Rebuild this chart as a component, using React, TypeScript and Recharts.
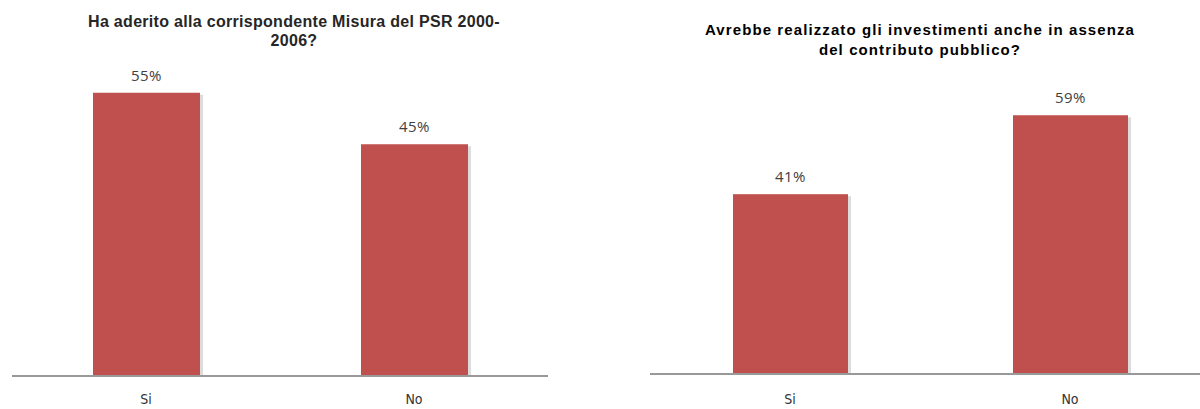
import React from 'react';
import { BarChart, Bar, XAxis, YAxis, LabelList } from 'recharts';

const categories = ['Si', 'No'];
const adesioneValues = [55, 45];
const investimentiValues = [41, 59];

const adesioneData = categories.map((name, i) => ({ name, value: adesioneValues[i] }));
const investimentiData = categories.map((name, i) => ({ name, value: investimentiValues[i] }));

const BAR_COLOR = '#C0504D';

// bar with a soft grey shadow on its right side, like the office export
const ShadowBar = (props: any) => {
    const { x, y, width, height } = props;
    if (!height || height <= 0) return null;
    return (
        <g>
            <rect x={x + 3} y={y + 2} width={width} height={height - 2} fill="#dcdcdc" />
            <rect x={x} y={y} width={width} height={height} fill={BAR_COLOR} />
        </g>
    );
};

const pctLabel = (v: any) => `${v}%`;

const tickStyle = { fill: '#333333', fontSize: 14, fontFamily: '"DejaVu Sans Condensed", "DejaVu Sans", sans-serif' };
const labelStyle = { fill: '#404040', fontSize: 15, fontFamily: '"Open Sans", sans-serif', letterSpacing: 0.4 };

const App: React.FC = () => {
    return (
        <div style={{ position: 'absolute', left: 0, top: 0, width: 1200, height: 409, overflow: 'hidden', background: '#fff' }}>
            <div
                style={{
                    position: 'absolute', left: 0, top: 12, width: 588, textAlign: 'center',
                    fontFamily: '"Liberation Sans", Arial, sans-serif', fontWeight: 'bold', fontSize: 16,
                    lineHeight: '19px', color: '#262626', letterSpacing: 0.3,
                }}
            >
                Ha aderito alla corrispondente Misura del PSR 2000-
                <br />
                2006?
            </div>
            <div
                style={{
                    position: 'absolute', left: 640, top: 20, width: 560, textAlign: 'center',
                    fontFamily: '"Liberation Sans", Arial, sans-serif', fontWeight: 'bold', fontSize: 15,
                    lineHeight: '20px', color: '#000', letterSpacing: 1.1,
                }}
            >
                Avrebbe realizzato gli investimenti anche in assenza
                <br />
                del contributo pubblico?
            </div>

            <div style={{ position: 'absolute', left: 0, top: 0 }}>
                <BarChart width={560} height={409} data={adesioneData} margin={{ top: 67, right: 12, left: 12, bottom: 0 }}>
                    <XAxis
                        dataKey="name"
                        height={33}
                        tickLine={false}
                        tickSize={0}
                        tickMargin={18}
                        axisLine={{ stroke: '#999999', strokeWidth: 2 }}
                        tick={tickStyle}
                    />
                    <YAxis hide domain={[0, 60]} />
                    <Bar dataKey="value" barSize={107} shape={ShadowBar} isAnimationActive={false}>
                        <LabelList dataKey="value" position="top" offset={12} formatter={pctLabel} style={labelStyle} />
                    </Bar>
                </BarChart>
            </div>

            <div style={{ position: 'absolute', left: 640, top: 0 }}>
                <BarChart width={570} height={409} data={investimentiData} margin={{ top: 67, right: 0, left: 10, bottom: 0 }}>
                    <XAxis
                        dataKey="name"
                        height={35}
                        tickLine={false}
                        tickSize={0}
                        tickMargin={20}
                        axisLine={{ stroke: '#999999', strokeWidth: 2 }}
                        tick={tickStyle}
                    />
                    <YAxis hide domain={[0, 70]} />
                    <Bar dataKey="value" barSize={115} shape={ShadowBar} isAnimationActive={false}>
                        <LabelList dataKey="value" position="top" offset={12} formatter={pctLabel} style={labelStyle} />
                    </Bar>
                </BarChart>
            </div>
        </div>
    );
};

export default App;
